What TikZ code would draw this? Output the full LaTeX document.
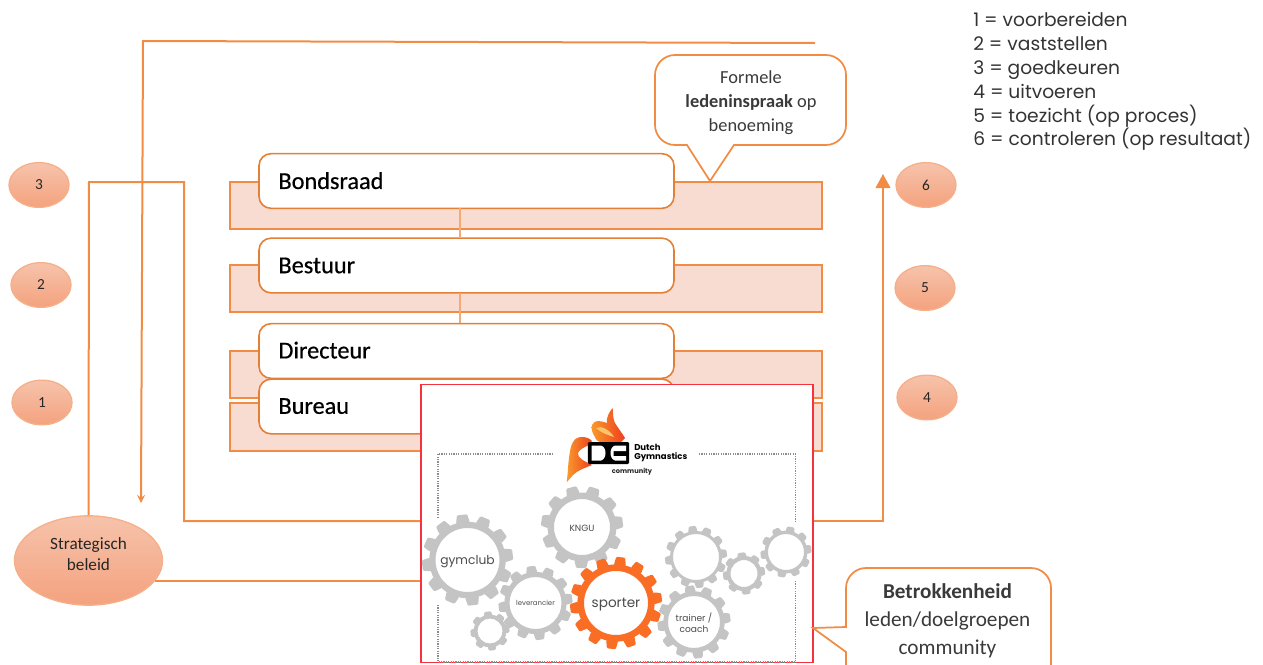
\documentclass[tikz,border=0pt]{standalone}
\usepackage{fontspec}
\setmainfont{Carlito}
\newfontfamily\legendfont{Poppins}
\newfontfamily\boxfont[FakeBold=0.5]{Carlito}
\newfontfamily\gearfont{Poppins}
\newfontfamily\logofont{Poppins}
\usetikzlibrary{arrows.meta,shapes.geometric,calc}
\definecolor{linecol}{HTML}{F28C45}
\definecolor{boxline}{HTML}{E47F36}
\definecolor{bandfill}{HTML}{F8DBD1}
\definecolor{ovaltop}{HTML}{F6C3AB}
\definecolor{ovalbot}{HTML}{F4A27E}
\definecolor{ovalline}{HTML}{F5B08A}
\definecolor{gearfill}{HTML}{C4C4C4}
\definecolor{gearorange}{HTML}{F96E24}
\definecolor{redframe}{HTML}{F5333F}
\definecolor{txt}{HTML}{3A3A3A}
\definecolor{flameA}{HTML}{F99A2C}
\definecolor{flameB}{HTML}{EE3F1E}
\definecolor{flameC}{HTML}{FCC36A}
\tikzset{
  x=0.75pt,y=-0.75pt,
  conn/.style={draw=linecol,line width=1.5pt},
  faint/.style={draw=linecol!75,line width=0.9pt},
  band/.style={draw=linecol,line width=1.4pt,fill=bandfill},
  titlebox/.style={draw=boxline,line width=1.2pt,fill=white,rounded corners=9pt,minimum width=311.25pt,anchor=center,
    text width=282pt,align=left,font=\boxfont\fontsize{18.2}{21}\selectfont,text=black},
  oval/.style={ellipse,draw=ovalline,line width=1pt,top color=ovaltop,bottom color=ovalbot,inner sep=0pt,
    minimum width=45pt,minimum height=33.5pt,font=\fontsize{11.5}{14}\selectfont,text=black!85},
  callout/.style={draw=linecol,line width=1.3pt,fill=white},
  calltext/.style={align=center,text=txt},
  dots/.style={draw=black!45,line width=0.9pt,dash pattern=on 0.9pt off 0.9pt},
  geartext/.style={font=\gearfont,text=black!70,align=center,inner sep=0pt}
}
% #1 centre x, #2 centre y, #3 outer radius, #4 inner radius, #5 teeth, #6 colour
\newcommand{\cogwheel}[6]{%
  \pgfmathsetmacro{\bodyr}{#3*0.84}%
  \pgfmathsetmacro{\toothw}{#3*3.14159/#5*0.58}%
  \pgfmathsetmacro{\toothg}{\toothw*0.75}%
  \pgfmathsetmacro{\stepang}{360/#5}%
  \fill[#6,even odd rule] (#1,#2) circle[radius=\bodyr] (#1,#2) circle[radius=#4];
  \foreach \k in {1,...,#5}{%
    \pgfmathsetmacro{\ang}{\k*\stepang+7}%
    \begin{scope}[shift={(#1,#2)},rotate=\ang]
      \fill[#6,rounded corners=0.8pt] (\bodyr-1,-\toothw) -- (#3,-\toothg) -- (#3,\toothg) -- (\bodyr-1,\toothw) -- cycle;
    \end{scope}
  }%
}
\begin{document}
\begin{tikzpicture}
\useasboundingbox (0,0) rectangle (1263,664);
\clip (0,0) rectangle (1263,664);

% bands
\node[band,minimum width=444pt,minimum height=35pt,inner sep=0pt] (bandA) at (526,205.5) {};
\node[band,minimum width=444pt,minimum height=35pt,inner sep=0pt] (bandB) at (526,288.5) {};
\node[band,minimum width=444pt,minimum height=35pt,inner sep=0pt] (bandC) at (526,374.5) {};
\node[band,minimum width=444pt,minimum height=35.5pt,inner sep=0pt] (bandD) at (526,427) {};

% title boxes
\node[titlebox,minimum height=41pt] (bondsraad) at (466.5,181) {\raisebox{0.7pt}{Bondsraad}};
\node[titlebox,minimum height=41pt] (bestuur) at (466.5,265.5) {Bestuur};
\node[titlebox,minimum height=41pt] (directeur) at (466.5,351) {\raisebox{1.4pt}{Directeur}};
\node[titlebox,minimum height=41pt] (bureau) at (466.5,406.5) {\raisebox{0.7pt}{Bureau}};
\coordinate (linkAtop) at (460,208);
\coordinate (linkAbot) at (460,238);
\coordinate (linkBtop) at (460,293);
\coordinate (linkBbot) at (460,323);
\draw[faint] (linkAtop) -- (linkAbot);
\draw[faint] (linkBtop) -- (linkBbot);

% ovals
\node[oval] (o3) at (39,185) {3};
\node[oval] (o2) at (41,285) {2};
\node[oval] (o1) at (42,402.5) {1};
\node[oval] (o6) at (926,185) {6};
\node[oval] (o5) at (925,288) {5};
\node[oval] (o4) at (927,397.5) {4};
\node[ellipse,draw=ovalline,line width=1pt,top color=ovaltop,bottom color=ovalbot,inner sep=0pt,
  minimum width=111pt,minimum height=67pt] (strat) at (88.5,560.5) {};
\node[align=center,inner sep=0pt,font=\fontsize{12.9}{15.75}\selectfont,text=black!85] (stratlabel) at (88.5,554.5) {Strategisch\\beleid};

% community box
\node[draw=redframe,line width=1.3pt,fill=white,minimum width=294pt,minimum height=208.5pt,inner sep=0pt] (comm) at (617,523.5) {};

% connectors
\coordinate (topend) at (815,43);
\coordinate (topcorner) at (143,41);
\coordinate (topdown) at (141,503);
\draw[conn,-{Stealth[length=6pt,width=6pt]}] (topend) -- (topcorner) -- (topdown);
\coordinate (j1) at (89,182);
\coordinate (j2) at (184,182);
\coordinate (j3) at (184,521);
\draw[conn] (strat.north) -- (j1) -- (j2) -- (j3) -- (comm.west |- j3);
\coordinate (sr) at (155,581);
\draw[conn] (sr) -- (comm.west |- sr);
\coordinate (k1) at (883,521);
\coordinate (k2) at (883,174);
\draw[conn,-{Triangle[length=10.5pt,width=11pt]}] (comm.east |- k1) -- (k1) -- (k2);

% callouts
\draw[callout] (675,55) -- (826,55) .. controls (837,55) and (846,64) .. (846,75) -- (846,125)
  .. controls (846,136) and (837,145) .. (826,145) -- (734,145) -- (710,181) -- (687,145) -- (675,145)
  .. controls (664,145) and (655,136) .. (655,125) -- (655,75) .. controls (655,64) and (664,55) .. (675,55) -- cycle;
\node[calltext,font=\fontsize{13.8}{18}\selectfont] (formele) at (751,102.5) {Formele\\\textbf{ledeninspraak} op\\benoeming};

\draw[callout] (866,568) -- (1031,568) .. controls (1042,568) and (1051,577) .. (1051,588) -- (1051,700) -- (846,700)
  -- (846,652) -- (813,628) -- (846,627) -- (846,588) .. controls (846,577) and (855,568) .. (866,568) -- cycle;
\node[calltext,font=\fontsize{15.9}{21}\selectfont] (betrok) at (947.5,620.5) {\textbf{Betrokkenheid}\\leden/doelgroepen\\community};

% legend
\node[anchor=north west,inner sep=0pt,align=left,font=\legendfont\fontsize{14}{17.85}\selectfont,text=black!80] (legend) at (973,12.5)
 {1 = voorbereiden\\2 = vaststellen\\3 = goedkeuren\\4 = uitvoeren\\5 = toezicht (op proces)\\6 = controleren (op resultaat)};

% dotted frame
\coordinate (fTL) at (438,454);\coordinate (fTa) at (553,454);
\coordinate (fTb) at (699,454);\coordinate (fTR) at (795.5,454);
\coordinate (fL1) at (438,517);\coordinate (fL2) at (438,605);\coordinate (fBL) at (438,662);
\coordinate (fR1) at (795.5,522);\coordinate (fR2) at (795.5,580);\coordinate (fBR) at (795.5,662);
\draw[dots] (fTa) -- (fTL) -- (fL1);
\draw[dots] (fTb) -- (fTR) -- (fR1);
\draw[dots] (fL2) -- (fBL) -- (fBR) -- (fR2);

% gears
\cogwheel{467.5}{560}{45.5}{32}{12}{gearfill}
\cogwheel{582}{527}{41}{28}{11}{gearfill}
\cogwheel{535.5}{603}{37}{26}{12}{gearfill}
\cogwheel{490}{631}{19.5}{12.5}{8}{gearfill}
\cogwheel{616}{603}{46}{32}{14}{gearorange}
\cogwheel{694}{622}{36.5}{26}{12}{gearfill}
\cogwheel{696}{557}{31}{23}{12}{gearfill}
\cogwheel{744}{573.5}{21}{13.5}{8}{gearfill}
\cogwheel{786}{552}{25.5}{18}{10}{gearfill}
\node[geartext,font=\gearfont\fontsize{9.2}{11}\selectfont] (g1) at (467.5,561.5) {gymclub};
\node[geartext,font=\gearfont\fontsize{6.8}{8}\selectfont] (g2) at (582,528) {KNGU};
\node[geartext,font=\gearfont\fontsize{5.2}{6}\selectfont] (g3) at (535.5,603) {leverancier};
\node[geartext,font=\gearfont\fontsize{10.2}{12}\selectfont] (g4) at (616,604.5) {sporter};
\node[geartext,font=\gearfont\fontsize{6.8}{8}\selectfont] (g5) at (694,623) {trainer /\\coach};

% logo
\shade[left color=flameA,right color=flameB]
  (566.7,482.3) .. controls (568,472) and (568,465) .. (569,458) .. controls (570,450) and (571,445) .. (573,442)
  .. controls (575,438) and (579,437) .. (582,437) .. controls (586,437) and (589,438) .. (592,441)
  -- (587,446) .. controls (580,449) and (578,452) .. (578,454) .. controls (578,458) and (584,461) .. (592,465)
  .. controls (585,468) and (578,470) .. (573,475) -- cycle;
\shade[left color=flameA,right color=flameB]
  (612.7,408) .. controls (613,414) and (613,419) .. (615,423) .. controls (618,428) and (622,433) .. (625,438)
  -- (620,443) -- (603,443) .. controls (598,442) and (595,439) .. (595,437) .. controls (592,433) and (591,428) .. (592,425)
  .. controls (593,422) and (596,421) .. (598,421) .. controls (601,421) and (604,422) .. (607,423)
  .. controls (606,418) and (609,412) .. (612.7,408) -- cycle;
\fill[flameC] (596,428) .. controls (601,425) and (610,430) .. (614,437) .. controls (608,435) and (601,433) .. (596,428) -- cycle;
\node[fill=black,rounded corners=1pt,minimum width=31pt,minimum height=16.5pt,inner sep=0pt] (logobox) at (608.5,453) {};
\fill[white] (591.5,445.5) -- (601,445.5) .. controls (607,447) and (607,459) .. (601,460.5) -- (591.5,460.5) -- cycle;
\fill[white] (626,445.5) -- (615,445.5) .. controls (609,447) and (609,459) .. (615,460.5) -- (626,460.5) -- (626,456) -- (613.5,456) -- (613.5,451) -- (626,451) -- cycle;
\node[anchor=west,inner sep=0pt,align=left,font=\logofont\bfseries\fontsize{6.4}{6.6}\selectfont,text=black] (logotext) at (634,453) {Dutch\\Gymnastics};
\node[inner sep=0pt,font=\logofont\bfseries\fontsize{5}{6}\selectfont,text=black!85] (logocomm) at (632,472) {community};
\end{tikzpicture}
\end{document}
